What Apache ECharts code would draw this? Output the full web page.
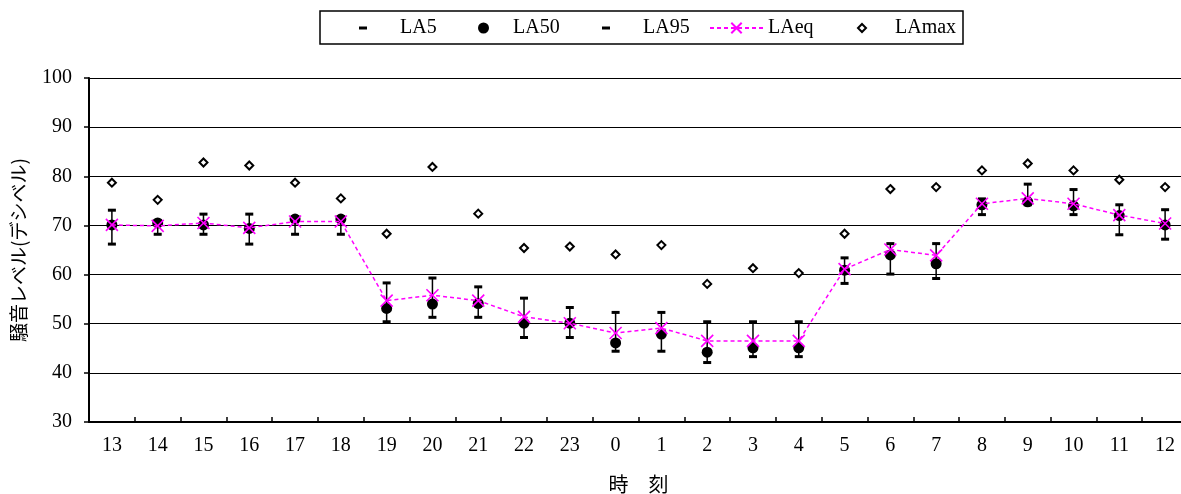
<!DOCTYPE html>
<html>
<head>
<meta charset="utf-8">
<script src="https://cdn.jsdelivr.net/npm/echarts@6/dist/echarts.min.js"></script>
<style>
html,body{margin:0;padding:0;background:#fff;}
#chart{width:1181px;height:494px;}
</style>
</head>
<body>
<div id="chart"></div>
<script>
const hours = ['13','14','15','16','17','18','19','20','21','22','23','0','1','2','3','4','5','6','7','8','9','10','11','12'];
const LA5  = [73.1, 71.0, 72.3, 72.3, 71.8, 71.8, 58.3, 59.3, 57.5, 55.2, 53.3, 52.3, 52.3, 50.4, 50.4, 50.4, 63.4, 66.3, 66.3, 75.4, 78.4, 77.3, 74.2, 73.2];
const LA50 = [70.1, 70.5, 70.1, 69.4, 71.3, 71.3, 53.1, 54.0, 54.1, 50.1, 50.1, 46.1, 47.9, 44.2, 45.1, 45.1, 60.9, 64.0, 62.2, 74.2, 74.8, 74.0, 72.0, 70.1];
const LA95 = [66.2, 68.2, 68.2, 66.2, 68.2, 68.2, 50.4, 51.3, 51.3, 47.2, 47.2, 44.4, 44.4, 42.1, 43.3, 43.3, 58.2, 60.1, 59.2, 72.2, 74.2, 72.2, 68.1, 67.2];
const LAeq = [70.1, 69.9, 70.5, 69.5, 70.8, 70.8, 54.7, 55.8, 54.7, 51.4, 50.1, 48.1, 49.1, 46.5, 46.5, 46.5, 61.1, 65.1, 63.9, 74.4, 75.5, 74.4, 72.1, 70.4];
const LAmax = [78.7, 75.2, 82.8, 82.2, 78.7, 75.5, 68.3, 81.9, 72.4, 65.4, 65.7, 64.1, 66.0, 58.1, 61.3, 60.3, 68.3, 77.4, 77.8, 81.2, 82.6, 81.2, 79.3, 77.8];
const yTicks = {min: 30, max: 100, interval: 10};

const serif = 'Liberation Serif';
const cjk = 'Noto Sans CJK JP';
const chart = echarts.init(document.getElementById('chart'));

function legendOf(name, left, w, h, pad) {
  return {
    data: [name], left: left, top: 18, padding: 0,
    itemWidth: w, itemHeight: h, selectedMode: false,
    textStyle: {fontFamily: serif, fontSize: 20, color: '#000', lineHeight: 20, padding: [0, 0, 0, pad]}
  };
}

const option = {
  animation: false,
  backgroundColor: '#fff',
  graphic: [{
    type: 'rect', shape: {x: 320, y: 11, width: 643, height: 33},
    style: {fill: 'none', stroke: '#000', lineWidth: 1.5}, z: 100
  }],
  legend: [
    legendOf('LA5', 359, 8, 3, 28),
    legendOf('LA50', 478, 11, 11, 19),
    legendOf('LA95', 602, 8, 3, 28),
    legendOf('LAeq', 709, 53, 13, 0),
    legendOf('LAmax', 857, 8, 8, 24)
  ],
  grid: {left: 89, top: 78, bottom: 72, right: -7, containLabel: false, outerBoundsMode: 'none'},
  xAxis: {
    type: 'category', data: hours, boundaryGap: true,
    name: '時　刻', nameLocation: 'middle', nameGap: 52,
    nameTextStyle: {fontFamily: cjk, fontSize: 20, color: '#000'},
    axisLine: {lineStyle: {color: '#000', width: 2}},
    axisTick: {show: true, inside: true, length: 5, interval: 0, lineStyle: {color: '#000', width: 1.5}},
    axisLabel: {fontFamily: serif, fontSize: 20, color: '#000', margin: 14, interval: 0},
    splitLine: {show: false}
  },
  yAxis: {
    type: 'value', min: yTicks.min, max: yTicks.max, interval: yTicks.interval,
    name: '騒音レベル(デシベル)', nameLocation: 'middle', nameRotate: 90, nameGap: 61,
    nameTextStyle: {fontFamily: cjk, fontSize: 19, color: '#000'},
    axisLine: {show: true, lineStyle: {color: '#000', width: 2}},
    axisTick: {show: true, inside: false, length: 5, lineStyle: {color: '#000', width: 1.5}},
    axisLabel: {fontFamily: serif, fontSize: 20, color: '#000', margin: 17},
    splitLine: {show: true, lineStyle: {color: '#000', width: 1.2}}
  },
  series: [
    {
      name: 'hl', type: 'custom', z: 2,
      data: hours.map((h, i) => [i, LA5[i], LA95[i]]),
      encode: {x: 0, y: [1, 2]},
      renderItem: function (params, api) {
        const x = api.value(0);
        const p1 = api.coord([x, api.value(1)]);
        const p2 = api.coord([x, api.value(2)]);
        return {type: 'line', shape: {x1: p1[0], y1: p1[1], x2: p2[0], y2: p2[1]},
                style: {stroke: '#000', lineWidth: 1.5}};
      }
    },
    {name: 'LA5', type: 'scatter', data: LA5, symbol: 'rect', symbolSize: [8, 3], itemStyle: {color: '#000', opacity: 1}, z: 3},
    {name: 'LA50', type: 'scatter', data: LA50, symbol: 'circle', symbolSize: 11, itemStyle: {color: '#000', opacity: 1}, z: 3},
    {name: 'LA95', type: 'scatter', data: LA95, symbol: 'rect', symbolSize: [8, 3], itemStyle: {color: '#000', opacity: 1}, z: 3},
    {
      name: 'LAeq', type: 'line', data: LAeq, z: 4,
      symbol: 'path://M0,0L10,10M0,10L10,0', symbolSize: 12, showAllSymbol: true,
      itemStyle: {color: '#ff00ff', borderColor: '#ff00ff', borderWidth: 1.6},
      lineStyle: {color: '#ff00ff', width: 1.5, type: [4, 3]}
    },
    {name: 'LAmax', type: 'scatter', data: LAmax, symbol: 'emptyDiamond', symbolSize: 8,
     itemStyle: {color: '#000', borderColor: '#000', borderWidth: 1.5, opacity: 1}, z: 3}
  ]
};
chart.setOption(option);
</script>
</body>
</html>
